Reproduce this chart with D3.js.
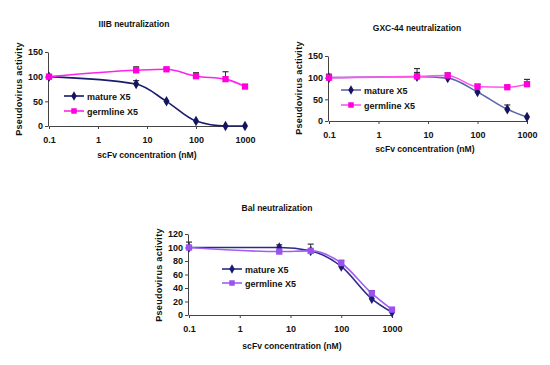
<!DOCTYPE html>
<html><head><meta charset="utf-8">
<script src="https://cdn.jsdelivr.net/npm/d3@7"></script>
<style>
body{margin:0;background:#fff;}
text{font-family:"Liberation Sans",Arial,sans-serif;font-weight:bold;fill:#111;}
</style></head>
<body><svg id="c" width="550" height="365"></svg>
<script>
const conc = [0.1, 6, 25, 100, 400, 1000];
const xTicks = [0.1, 1, 10, 100, 1000];
const xTickLabels = ["0.1", "1", "10", "100", "1000"];
const seriesNames = ["mature X5", "germline X5"];

const iiibTitle = "IIIB neutralization";
const iiibMature = [100, 85, 50, 10, 0, 0];
const iiibMatureErr = [0, 7, 0, 0, 0, 0];
const iiibGermline = [100, 113, 115, 101, 95, 80];
const iiibGermlineErr = [4, 7, 2, 7, 15, 0];
const iiibYTicks = [0, 50, 100, 150];

const gxcTitle = "GXC-44 neutralization";
const gxcMature = [100, 102, 99, 67, 27, 9];
const gxcMatureErr = [0, 10, 0, 0, 10, 0];
const gxcGermline = [100, 103, 105, 79, 78, 85];
const gxcGermlineErr = [8, 18, 6, 6, 3, 11];
const gxcYTicks = [0, 50, 100, 150];

const balTitle = "Bal neutralization";
const balMature = [100, 100, 95, 72, 24, 4];
const balMatureErr = [0, 4, 0, 0, 0, 0];
const balGermline = [100, 94, 95, 77, 32, 8];
const balGermlineErr = [8, 0, 10, 4, 4, 2];
const balYTicks = [0, 20, 40, 60, 80, 100, 120];

const svg = d3.select("#c");

function drawChart(cfg) {
  const g = svg.append("g");
  const x = d3.scaleLog().domain([0.1, 1000]).range([cfg.x0, cfg.x1]);
  const y = d3.scaleLinear().domain([0, cfg.yMax]).range([cfg.y0, cfg.y1]);

  const xa = g.append("g").attr("transform", `translate(0,${cfg.y0})`)
    .call(d3.axisBottom(x).tickValues(xTicks).tickFormat((d,i)=>xTickLabels[i]).tickSize(3).tickSizeOuter(0));
  xa.select(".domain").attr("stroke", "#444");
  xa.selectAll(".tick line").attr("stroke", "#444");
  xa.selectAll("text").attr("font-size", 9).attr("dy", "1.2em").attr("fill", "#111").attr("font-family", null);
  const ya = g.append("g").attr("transform", `translate(${cfg.x0 - 1},0)`)
    .call(d3.axisLeft(y).tickValues(cfg.yTicks).tickSize(3).tickSizeOuter(0));
  ya.select(".domain").attr("stroke", "#444");
  ya.selectAll(".tick line").attr("stroke", "#444");
  ya.selectAll("text").attr("font-size", 9).attr("fill", "#111").attr("font-family", null).attr("x", -5);

  g.append("text").attr("x", cfg.titleX).attr("y", cfg.titleY).attr("text-anchor", "middle")
    .attr("font-size", 8.5).text(cfg.title);
  g.append("text").attr("x", cfg.xtX).attr("y", cfg.xtY).attr("text-anchor", "middle")
    .attr("font-size", 8.6).text("scFv concentration (nM)");
  g.append("text").attr("transform", `translate(${cfg.ytX},${cfg.ytY}) rotate(-90)`)
    .attr("text-anchor", "middle").attr("font-size", 9).attr("letter-spacing", 0.3).text("Pseudovirus activity");

  const series = [
    {vals: cfg.mat, err: cfg.matErr, line: cfg.matLine, mark: cfg.matMark, shape: d3.symbolDiamond, size: 32},
    {vals: cfg.germ, err: cfg.germErr, line: cfg.germLine, mark: cfg.germMark, shape: d3.symbolSquare, size: 40}
  ];
  const line = d3.line().x(d => x(d[0])).y(d => y(d[1])).curve(d3.curveMonotoneX);
  series.forEach(s => {
    const pts = conc.map((c, i) => [c, s.vals[i], s.err[i]]);
    g.append("path").datum(pts).attr("d", line).attr("fill", "none")
      .attr("stroke", s.line).attr("stroke-width", 1.6);
    pts.filter(p => p[2] > 0).forEach(p => {
      const px = x(p[0]), yt = y(p[1] + p[2]);
      g.append("line").attr("x1", px).attr("x2", px).attr("y1", y(p[1])).attr("y2", yt)
        .attr("stroke", "#333").attr("stroke-width", 1);
      g.append("line").attr("x1", px - 3).attr("x2", px + 3).attr("y1", yt).attr("y2", yt)
        .attr("stroke", "#333").attr("stroke-width", 1.2);
    });
    g.selectAll(null).data(pts).enter().append("path")
      .attr("d", d3.symbol().type(s.shape).size(s.size))
      .attr("transform", d => `translate(${x(d[0])},${y(d[1])})`)
      .attr("fill", s.mark);
  });

  const leg = [
    {name: seriesNames[0], line: cfg.matLine, mark: cfg.matMark, shape: d3.symbolDiamond, size: 26},
    {name: seriesNames[1], line: cfg.germLine, mark: cfg.germMark, shape: d3.symbolSquare, size: 30}
  ];
  leg.forEach((l, i) => {
    const ly = cfg.legY + i * cfg.legDy;
    g.append("line").attr("x1", cfg.legX).attr("x2", cfg.legX + 20).attr("y1", ly).attr("y2", ly)
      .attr("stroke", l.line).attr("stroke-width", 1.6);
    g.append("path").attr("d", d3.symbol().type(l.shape).size(l.size))
      .attr("transform", `translate(${cfg.legX + 10},${ly})`).attr("fill", l.mark);
    g.append("text").attr("x", cfg.legX + 23).attr("y", ly + 3.5).attr("font-size", 9).text(l.name);
  });
}

drawChart({
  title: iiibTitle, mat: iiibMature, matErr: iiibMatureErr, germ: iiibGermline, germErr: iiibGermlineErr,
  yMax: 150, yTicks: iiibYTicks,
  x0: 49, x1: 245, y0: 126, y1: 52,
  titleX: 134, titleY: 27, xtX: 147, xtY: 158, ytX: 22, ytY: 89,
  matLine: "#1a1a6e", matMark: "#141460", germLine: "#ff22ee", germMark: "#ff00dd",
  legX: 64, legY: 96, legDy: 15
});
drawChart({
  title: gxcTitle, mat: gxcMature, matErr: gxcMatureErr, germ: gxcGermline, germErr: gxcGermlineErr,
  yMax: 150, yTicks: gxcYTicks,
  x0: 329, x1: 527, y0: 121, y1: 56,
  titleX: 417, titleY: 31, xtX: 425, xtY: 152, ytX: 302, ytY: 88,
  matLine: "#5a68b0", matMark: "#141460", germLine: "#ff55ee", germMark: "#ff00dd",
  legX: 341, legY: 90, legDy: 15
});
drawChart({
  title: balTitle, mat: balMature, matErr: balMatureErr, germ: balGermline, germErr: balGermlineErr,
  yMax: 120, yTicks: balYTicks,
  x0: 189, x1: 392, y0: 315, y1: 234,
  titleX: 277, titleY: 211, xtX: 292, xtY: 349, ytX: 162, ytY: 275,
  matLine: "#2a2a88", matMark: "#1a1a70", germLine: "#a060f0", germMark: "#9b50f0",
  legX: 222, legY: 269, legDy: 14
});
</script></body></html>
